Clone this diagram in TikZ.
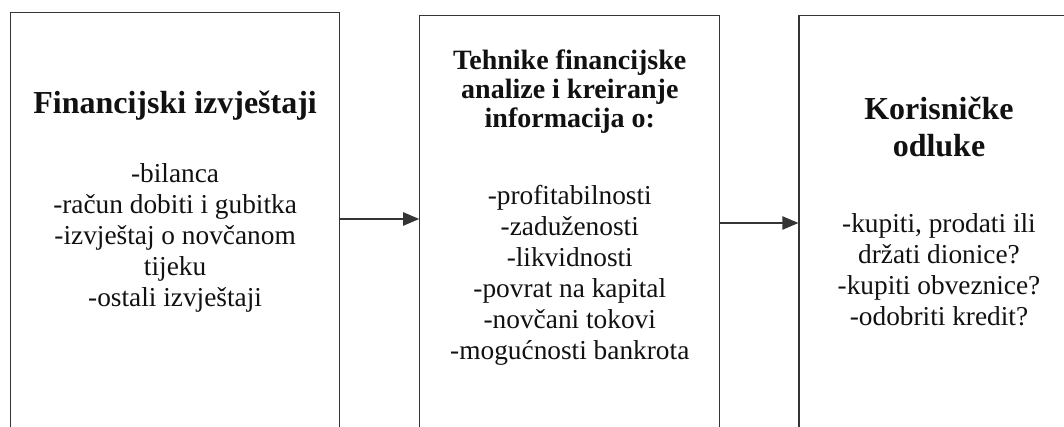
\documentclass[tikz,border=0pt]{standalone}
\usepackage{fontspec}
\setmainfont{Liberation Serif}
\usetikzlibrary{
  arrows.meta,
  positioning,
  calc
}
\definecolor{faLine}{HTML}{353535}
\definecolor{faText}{HTML}{111111}
\tikzset{
  fabox/.style={
    draw=faLine, line width=0.9pt, minimum height=360pt, inner sep=0pt
  },
  fahead/.style={font=\fontsize{24}{27.75}\selectfont\bfseries, align=center, inner sep=0pt, text=faText},
  fasub/.style={fahead, font=\fontsize{21}{21.6}\selectfont\bfseries},
  falist/.style={font=\fontsize{20.5}{23.3}\selectfont, align=center, inner sep=0pt, text=faText},
  flow/.style={-{Triangle[length=12pt, width=10pt]}, line width=0.9pt, draw=faLine, fill=black}
}

\begin{document}
\begin{tikzpicture}[x=0.75pt, y=-0.75pt]
  \useasboundingbox (0,0) rectangle (1064,427);
  \clip (0,0) rectangle (1064,427);
  \node[fabox, minimum width=246.75pt, anchor=north west] (fin) at (10,12) {};
  \node[fabox, minimum width=225pt, right=59.25pt of fin.north east, anchor=north west, yshift=-2.25pt] (teh) {};
  \node[fabox, minimum width=210pt, right=58.5pt of teh.north east, anchor=north west] (kor) {};
  % naslovi
  \node[fahead] (finT) at ([yshift=-70.5pt]fin.north) {Financijski izvještaji};
  \node[fasub] (tehT) at ([yshift=-57.5pt]teh.north) {Tehnike financijske\\analize i kreiranje\\informacija o:};
  \node[fahead] (korT) at ([yshift=-83.6pt]kor.north) {Korisničke\\odluke};
  % popisi
  \node[falist] (finL) at ([yshift=-169.5pt]fin.north) {-bilanca\\-račun dobiti i gubitka\\-izvještaj o novčanom\\tijeku\\-ostali izvještaji};
  \node[falist] (tehL) at ([yshift=-195pt]teh.north) {-profitabilnosti\\-zaduženosti\\-likvidnosti\\-povrat na kapital\\-novčani tokovi\\-mogućnosti bankrota};
  \node[falist] (korL) at ([yshift=-190.9pt]kor.north) {-kupiti, prodati ili\\držati dionice?\\-kupiti obveznice?\\-odobriti kredit?};
  \draw[flow] ([yshift=-155.25pt]fin.north east) coordinate (a1) -- (a1 -| teh.west);
  \draw[flow] ([yshift=-156pt]teh.north east) coordinate (a2) -- (a2 -| kor.west);
\end{tikzpicture}
\end{document}
